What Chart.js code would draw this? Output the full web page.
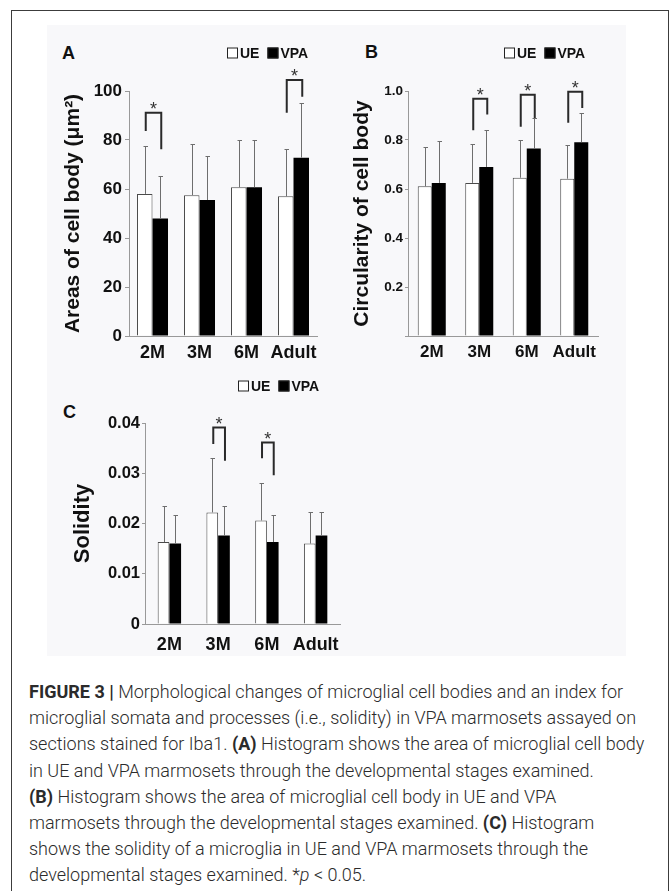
<!DOCTYPE html>
<html>
<head>
<meta charset="utf-8">
<script src="https://cdn.jsdelivr.net/npm/chart.js@4.4.1/dist/chart.umd.min.js"></script>
<style>
  html, body { margin: 0; padding: 0; background: #fff; }
  body { width: 670px; height: 891px; position: relative; overflow: hidden; font-family: "Liberation Sans", Arial, sans-serif; }
  .frame { position: absolute; left: 11px; top: 10px; width: 656px; height: 900px; border: 1.5px solid #3c3c3c; border-bottom: none; }
  .panel { position: absolute; left: 47px; top: 25px; width: 579px; height: 631px; background: #f8f8fa; }
  .tag { position: absolute; font: bold 18px "Liberation Sans", Arial, sans-serif; line-height: 18px; color: #111; }
  canvas { position: absolute; }
  .caption { position: absolute; left: 29px; top: 679px; font: 300 18px Roboto, "Liberation Sans", sans-serif; line-height: 26.2px; color: #2b2b2b; white-space: nowrap; }
  .caption b { font-weight: bold; }
</style>
</head>
<body>
<div class="frame"></div>
<div class="panel"></div>
<div class="tag" style="left:62px;top:44px">A</div>
<div class="tag" style="left:365px;top:43px">B</div>
<div class="tag" style="left:63px;top:403px">C</div>
<canvas id="chartA" width="290" height="340" style="left:40px;top:30px"></canvas>
<canvas id="chartB" width="292" height="340" style="left:320px;top:30px"></canvas>
<canvas id="chartC" width="310" height="320" style="left:40px;top:350px"></canvas>
<div class="caption">
<b>FIGURE 3 |</b> Morphological changes of microglial cell bodies and an index for<br>
microglial somata and processes (i.e., solidity) in VPA marmosets assayed on<br>
sections stained for Iba1. <b>(A)</b> Histogram shows the area of microglial cell body<br>
in UE and VPA marmosets through the developmental stages examined.<br>
<b>(B)</b> Histogram shows the area of microglial cell body in UE and VPA<br>
marmosets through the developmental stages examined. <b>(C)</b> Histogram<br>
shows the solidity of a microglia in UE and VPA marmosets through the<br>
developmental stages examined. *<i>p</i> &lt; 0.05.
</div>
<script>
const ages = ['2M', '3M', '6M', 'Adult'];

// A: areas of cell body (um2)
const areaUE = [58, 57.5, 60.7, 57];
const areaVPA = [48, 55.5, 60.7, 72.8];
const areaUEsd = [19.5, 20.9, 19.5, 19.3];
const areaVPAsd = [17.2, 17.8, 19.5, 22.2];
const areaSigAt = [0, 3];
const areaSigLeft = [83.7, 91.1];
const areaSigTop = [91.1, 104.5];
const areaSigRight = [76.2, 97.7];

// B: circularity of cell body
const circUE = [0.611, 0.625, 0.646, 0.642];
const circVPA = [0.625, 0.69, 0.765, 0.791];
const circUEsd = [0.16, 0.159, 0.156, 0.137];
const circVPAsd = [0.17, 0.15, 0.125, 0.12];
const circSigAt = [1, 2, 3];
const circSigLeft = [0.84, 0.854, 0.87];
const circSigTop = [0.968, 0.985, 0.997];
const circSigRight = [0.904, 0.89, 0.931];

// C: solidity
const solUE = [0.0163, 0.0222, 0.0206, 0.016];
const solVPA = [0.016, 0.0176, 0.0163, 0.0176];
const solUEsd = [0.0071, 0.0109, 0.0075, 0.0062];
const solVPAsd = [0.0056, 0.0059, 0.0053, 0.0046];
const solSigAt = [1, 2];
const solSigLeft = [0.0358, 0.033];
const solSigTop = [0.0391, 0.0361];
const solSigRight = [0.0325, 0.0296];

const FONT = '"Liberation Sans", Arial, sans-serif';

const boxLegend = {
  id: 'boxLegend',
  afterDraw(chart, args, o) {
    const ctx = chart.ctx;
    ctx.save();
    ctx.font = 'bold 14px ' + FONT;
    ctx.textBaseline = 'middle';
    let x = o.x;
    chart.data.datasets.forEach(ds => {
      ctx.fillStyle = ds.backgroundColor;
      ctx.fillRect(x, o.y - 5.5, 11, 11);
      ctx.strokeStyle = '#222';
      ctx.lineWidth = 1;
      ctx.strokeRect(x + 0.5, o.y - 5, 10, 10);
      ctx.fillStyle = '#111';
      ctx.fillText(ds.label, x + 13, o.y + 1);
      x += 13 + ctx.measureText(ds.label).width + 8;
    });
    ctx.restore();
  }
};

const errorBars = {
  id: 'errorBars',
  afterDatasetsDraw(chart, args, o) {
    const ctx = chart.ctx, y = chart.scales.y;
    ctx.save();
    ctx.strokeStyle = '#6e6e6e';
    ctx.lineWidth = 1;
    chart.data.datasets.forEach((ds, di) => {
      chart.getDatasetMeta(di).data.forEach((bar, i) => {
        const x = Math.round(bar.x) + 0.5;
        const top = Math.round(y.getPixelForValue(ds.data[i] + o.sd[di][i])) + 0.5;
        ctx.beginPath();
        ctx.moveTo(x, bar.y);
        ctx.lineTo(x, top);
        ctx.moveTo(x - 2, top);
        ctx.lineTo(x + 2.5, top);
        ctx.stroke();
      });
    });
    ctx.restore();
  }
};

const sigBrackets = {
  id: 'sigBrackets',
  afterDraw(chart, args, o) {
    const ctx = chart.ctx, y = chart.scales.y;
    const ue = chart.getDatasetMeta(0).data, vpa = chart.getDatasetMeta(1).data;
    ctx.save();
    ctx.strokeStyle = '#2a2a2a';
    ctx.lineWidth = 2;
    ctx.fillStyle = '#333';
    ctx.font = '18px ' + FONT;
    ctx.textAlign = 'center';
    o.at.forEach((c, k) => {
      const x1 = ue[c].x + 1, x2 = vpa[c].x + 1;
      const yt = y.getPixelForValue(o.top[k]);
      ctx.beginPath();
      ctx.moveTo(x1, y.getPixelForValue(o.left[k]));
      ctx.lineTo(x1, yt);
      ctx.lineTo(x2, yt);
      ctx.lineTo(x2, y.getPixelForValue(o.right[k]));
      ctx.stroke();
      ctx.fillText('*', (x1 + x2) / 2, yt + 2);
    });
    ctx.restore();
  }
};

function barChart(id, ue, vpa, o) {
  return new Chart(document.getElementById(id), {
    type: 'bar',
    data: {
      labels: ages,
      datasets: [
        { label: 'UE', data: ue, backgroundColor: '#ffffff', borderColor: '#4a4a4a', borderWidth: 1, borderSkipped: 'bottom' },
        { label: 'VPA', data: vpa, backgroundColor: '#000000', borderWidth: 0 }
      ]
    },
    options: {
      responsive: false,
      animation: false,
      layout: { padding: o.padding },
      datasets: { bar: { barPercentage: 1, categoryPercentage: o.catPct } },
      plugins: {
        legend: { display: false },
        tooltip: { enabled: false },
        boxLegend: o.legend,
        errorBars: { sd: o.sd },
        sigBrackets: o.sig
      },
      scales: {
        x: {
          grid: { display: false, drawTicks: false },
          border: { color: '#999' },
          ticks: {
            color: '#111', padding: o.xPad, autoSkip: false, maxRotation: 0, minRotation: 0,
            font: { family: FONT, size: o.xFont, weight: 'bold' }
          },
          afterFit: s => { s.height = o.xH; }
        },
        y: {
          min: 0,
          max: o.max,
          ticks: {
            stepSize: o.step,
            color: '#111',
            padding: o.tickPad,
            font: { family: FONT, size: o.tickFont, weight: 'bold' },
            callback: o.fmt
          },
          grid: { drawOnChartArea: false, tickLength: o.tickLen, color: '#999' },
          border: { color: '#999' },
          title: {
            display: true,
            text: o.title,
            color: '#111',
            padding: { top: o.titlePad, bottom: 0 },
            font: { family: FONT, size: o.titleFont, weight: 'bold' }
          },
          afterFit: s => { s.width = o.yW; }
        }
      }
    },
    plugins: [boxLegend, errorBars, sigBrackets]
  });
}

barChart('chartA', areaUE, areaVPA, {
  padding: { top: 61, right: 13, left: 0, bottom: 0 },
  catPct: 0.66, max: 100, step: 20, fmt: v => String(v),
  tickFont: 17, tickLen: 4, tickPad: 3, xFont: 18, xPad: 6, xH: 34, yW: 89,
  title: 'Areas of cell body (μm²)', titleFont: 21, titlePad: 21,
  legend: { x: 187, y: 23 },
  sd: [areaUEsd, areaVPAsd],
  sig: { at: areaSigAt, left: areaSigLeft, top: areaSigTop, right: areaSigRight }
});

barChart('chartB', circUE, circVPA, {
  padding: { top: 61, right: 14, left: 0, bottom: 0 },
  catPct: 0.59, max: 1, step: 0.2, fmt: v => (v === 0 ? '' : v.toFixed(1)),
  tickFont: 13.5, tickLen: 3, tickPad: 2, xFont: 17, xPad: 6, xH: 34, yW: 88,
  title: 'Circularity of cell body', titleFont: 21, titlePad: 30,
  legend: { x: 184, y: 23 },
  sd: [circUEsd, circVPAsd],
  sig: { at: circSigAt, left: circSigLeft, top: circSigTop, right: circSigRight }
});

barChart('chartC', solUE, solVPA, {
  padding: { top: 73, right: 10, left: 0, bottom: 0 },
  catPct: 0.48, max: 0.04, step: 0.01, fmt: v => (v === 0 ? '0' : v.toFixed(2)),
  tickFont: 16.5, tickLen: 3, tickPad: 2, xFont: 18, xPad: 10, xH: 46, yW: 105,
  title: 'Solidity', titleFont: 22, titlePad: 30,
  legend: { x: 198, y: 36 },
  sd: [solUEsd, solVPAsd],
  sig: { at: solSigAt, left: solSigLeft, top: solSigTop, right: solSigRight }
});
</script>
</body>
</html>
